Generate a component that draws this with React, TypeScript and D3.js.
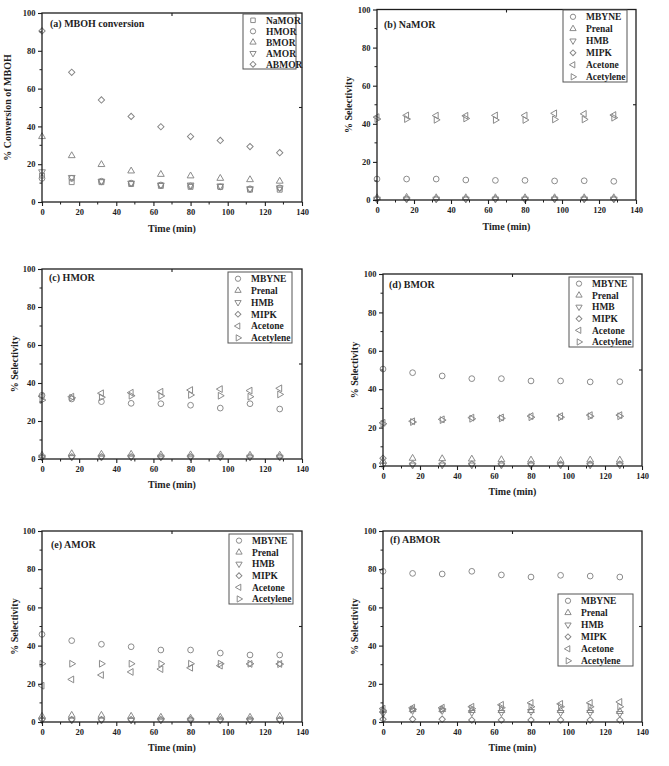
import React, { useRef, useEffect } from 'react';
import * as d3 from 'd3';

// shared axes
const times = [0, 16, 32, 48, 64, 80, 96, 112, 128];
const xTicks = [0, 20, 40, 60, 80, 100, 120, 140];
const yTicks = [0, 20, 40, 60, 80, 100];
const xMinor = [10, 30, 50, 70, 90, 110, 130];
const yMinor = [10, 30, 50, 70, 90];

// (a) MBOH conversion
const catalysts = ['NaMOR', 'HMOR', 'BMOR', 'AMOR', 'ABMOR'];
const convNaMOR = [14, 10.5, 10.5, 9.5, 8.5, 8, 8, 6.5, 6.5];
const convHMOR = [12.5, 12.5, 11, 10, 9, 8.5, 8, 7, 7.5];
const convBMOR = [34.6, 24.5, 19.8, 16.4, 14.6, 13.8, 12.5, 11.8, 11];
const convAMOR = [16, 13, 11, 10, 9, 9, 8.5, 7, 7.5];
const convABMOR = [90.5, 68.6, 54, 45.3, 39.8, 34.6, 32.6, 29.3, 26.1];

// products
const products = ['MBYNE', 'Prenal', 'HMB', 'MIPK', 'Acetone', 'Acetylene'];

// (b) NaMOR selectivity
const naMBYNE = [11, 11, 11, 10.5, 10.3, 10.3, 10, 10.1, 9.8];
const naPrenal = [1.2, 1.4, 1.2, 1.2, 1.2, 1.2, 1.2, 1.2, 1.2];
const naHMB = [0.5, 0.5, 0.5, 0.5, 0.5, 0.5, 0.5, 0.5, 0.5];
const naMIPK = [0.6, 0.6, 0.6, 0.6, 0.6, 0.6, 0.6, 0.6, 0.6];
const naAcetone = [43.5, 44.4, 44.3, 44.2, 44.4, 44.4, 45.5, 45.2, 44.6];
const naAcetylene = [42.5, 42.5, 42.1, 42.8, 42, 42, 42.3, 42.3, 43.2];

// (c) HMOR selectivity
const hMBYNE = [33.5, 31.6, 30.2, 29.3, 29.1, 28.3, 26.8, 29.1, 26.3];
const hPrenal = [2, 2.8, 2.5, 2.5, 2.2, 2.2, 2.2, 2, 2];
const hHMB = [1, 1, 1, 1, 1, 1, 1, 1, 1];
const hMIPK = [1, 1.2, 1.2, 1.2, 1.2, 1.2, 1.2, 1.2, 1.2];
const hAcetone = [33, 32.8, 34.6, 34.9, 35.4, 36.3, 36.8, 36, 37.2];
const hAcetylene = [31, 32.2, 32.5, 33.3, 33.2, 33.7, 33.3, 32.8, 34];

// (d) BMOR selectivity
const bMBYNE = [50.5, 48.6, 46.9, 45.5, 45.5, 44.3, 44.3, 43.8, 43.9];
const bPrenal = [2.5, 4, 3.8, 3.6, 3.3, 3.1, 2.9, 3.1, 3.1];
const bHMB = [0.5, 0.5, 0.5, 0.5, 0.5, 0.5, 0.5, 0.5, 0.5];
const bMIPK = [4, 1, 1, 1, 1, 1, 1, 1, 1];
const bAcetone = [22.5, 23.3, 24.3, 25.2, 25.3, 26, 26, 26.5, 26.5];
const bAcetylene = [22, 22.9, 23.9, 24.6, 24.8, 25.4, 25.4, 25.9, 25.9];

// (e) AMOR selectivity
const aMBYNE = [45.9, 42.6, 40.7, 39.4, 37.7, 37.7, 36.1, 35.1, 35.1];
const aPrenal = [3, 3.5, 3.5, 3, 2.5, 2, 2.5, 2.5, 3];
const aHMB = [1, 1, 1, 1, 1, 1, 1, 1, 1];
const aMIPK = [1.5, 1.2, 1.2, 1.2, 1.2, 1.2, 1.2, 1.2, 1.2];
const aAcetone = [19, 22.3, 24.6, 26.2, 27.7, 28.4, 29.5, 30.4, 30.4];
const aAcetylene = [30.5, 30.5, 30.5, 30.5, 30.5, 30.5, 30.5, 30.5, 30.3];

// (f) ABMOR selectivity
const abMBYNE = [78.9, 77.8, 77.5, 78.9, 77, 75.9, 76.8, 76.4, 75.9];
const abPrenal = [6, 6.5, 6.5, 6, 6, 6, 6, 6, 5.5];
const abHMB = [4.5, 6, 6, 5, 5, 5.5, 5, 5, 4.5];
const abMIPK = [1.5, 1.5, 1.5, 1, 1, 1, 1, 1, 1];
const abAcetone = [7, 7.5, 7.5, 8, 9, 10, 9.5, 10, 10.5];
const abAcetylene = [6, 6.5, 6.5, 7, 7.5, 8, 8, 8, 8];

const FONT = '"Liberation Serif", "Times New Roman", serif';
const MARK = '#858585';
const INK = '#1e1e1e';

// marker shapes: [d3 symbol, size, rotation]
const shapes = {
  square: [d3.symbolSquare, 24, 0],
  circle: [d3.symbolCircle, 26, 0],
  up: [d3.symbolTriangle, 20, 0],
  down: [d3.symbolTriangle, 20, 180],
  diamond: [d3.symbolSquare, 20, 45],
  left: [d3.symbolTriangle, 20, -90],
  right: [d3.symbolTriangle, 20, 90],
};
const convShapes = ['square', 'circle', 'up', 'down', 'diamond'];
const prodShapes = ['circle', 'up', 'down', 'diamond', 'left', 'right'];

const Panel = (props) => {
  const { box, label, labelPos, yTitle, yTitleX, xTitleDy, names, kinds, values, legend } = props;
  const ref = useRef();

  useEffect(() => {
    const g = d3.select(ref.current);
    g.selectAll('*').remove();

    const xScale = d3.scaleLinear().domain([0, 140]).range([box.left, box.right]);
    const yScale = d3.scaleLinear().domain([0, 100]).range([box.bottom, box.top]);

    // POINTS
    values.forEach((vals, si) => {
      const [type, size, rot] = shapes[kinds[si]];
      const path = d3.symbol().type(type).size(size)();
      g.selectAll(null)
        .data(vals)
        .enter()
        .append('path')
        .attr('d', path)
        .attr('transform', (d, i) => `translate(${xScale(times[i])},${yScale(d)}) rotate(${rot})`)
        .attr('fill', 'none')
        .attr('stroke', MARK)
        .attr('stroke-width', 0.95);
    });

    // FRAME
    g.append('rect')
      .attr('x', box.left)
      .attr('y', box.top)
      .attr('width', box.right - box.left)
      .attr('height', box.bottom - box.top)
      .attr('fill', 'none')
      .attr('stroke', INK)
      .attr('stroke-width', 1.3);

    // AXES
    const xAxis = g.append('g')
      .attr('transform', `translate(0,${box.bottom})`)
      .call(d3.axisBottom(xScale).tickValues(xTicks).tickSize(4).tickPadding(2.5));
    const yAxis = g.append('g')
      .attr('transform', `translate(${box.left},0)`)
      .call(d3.axisLeft(yScale).tickValues(yTicks).tickSize(4).tickPadding(2.5));
    [xAxis, yAxis].forEach((a) => {
      a.select('.domain').remove();
      a.selectAll('line').attr('stroke', INK).attr('stroke-width', 1.1);
      a.selectAll('text')
        .attr('fill', INK)
        .style('font-family', FONT)
        .style('font-weight', 'bold')
        .style('font-size', '8.5px');
    });

    // minor ticks
    g.selectAll(null).data(xMinor).enter().append('line')
      .attr('x1', (d) => xScale(d)).attr('x2', (d) => xScale(d))
      .attr('y1', box.bottom).attr('y2', box.bottom + 2.5)
      .attr('stroke', INK).attr('stroke-width', 1);
    g.selectAll(null).data(yMinor).enter().append('line')
      .attr('y1', (d) => yScale(d)).attr('y2', (d) => yScale(d))
      .attr('x1', box.left).attr('x2', box.left - 2.5)
      .attr('stroke', INK).attr('stroke-width', 1);

    // top / right middle ticks
    g.append('line')
      .attr('x1', xScale(70)).attr('x2', xScale(70))
      .attr('y1', box.top).attr('y2', box.top + 3)
      .attr('stroke', INK).attr('stroke-width', 1.1);
    g.append('line')
      .attr('x1', box.right).attr('x2', box.right - 3)
      .attr('y1', yScale(50)).attr('y2', yScale(50))
      .attr('stroke', INK).attr('stroke-width', 1.1);

    // TITLES
    g.append('text')
      .attr('x', (box.left + box.right) / 2)
      .attr('y', box.bottom + xTitleDy)
      .attr('text-anchor', 'middle')
      .attr('fill', INK)
      .style('font-family', FONT)
      .style('font-weight', 'bold')
      .style('font-size', '10px')
      .text('Time (min)');
    g.append('text')
      .attr('transform', `translate(${yTitleX},${(box.top + box.bottom) / 2}) rotate(-90)`)
      .attr('text-anchor', 'middle')
      .attr('dy', '0.35em')
      .attr('fill', INK)
      .style('font-family', FONT)
      .style('font-weight', 'bold')
      .style('font-size', '10px')
      .text(yTitle);
    g.append('text')
      .attr('x', box.left + labelPos[0])
      .attr('y', box.top + labelPos[1])
      .attr('dy', '0.35em')
      .attr('fill', INK)
      .style('font-family', FONT)
      .style('font-weight', 'bold')
      .style('font-size', '10px')
      .text(label);

    // LEGEND
    const lg = g.append('g');
    lg.append('rect')
      .attr('x', legend.x).attr('y', legend.y)
      .attr('width', legend.w).attr('height', legend.h)
      .attr('fill', 'white')
      .attr('stroke', '#555')
      .attr('stroke-width', 1);
    const row = legend.h / names.length;
    names.forEach((name, i) => {
      const cy = legend.y + row * (i + 0.5) + 0.8;
      const [type, size, rot] = shapes[kinds[i]];
      lg.append('path')
        .attr('d', d3.symbol().type(type).size(size * 0.85)())
        .attr('transform', `translate(${legend.x + 10},${cy}) rotate(${rot})`)
        .attr('fill', 'none')
        .attr('stroke', MARK)
        .attr('stroke-width', 0.95);
      lg.append('text')
        .attr('x', legend.x + 23)
        .attr('y', cy)
        .attr('dy', '0.35em')
        .attr('fill', INK)
        .style('font-family', FONT)
        .style('font-weight', 'bold')
        .style('font-size', '9.5px')
        .text(name);
    });
  }, [box, label, labelPos, yTitle, yTitleX, xTitleDy, names, kinds, values, legend]);

  return <g ref={ref} />;
};

const panels = [
  {
    box: { left: 42, right: 302, top: 13, bottom: 202 },
    label: '(a) MBOH conversion', labelPos: [8, 10.5],
    yTitle: '% Conversion of MBOH', yTitleX: 7, xTitleDy: 30,
    names: catalysts, kinds: convShapes,
    values: [convNaMOR, convHMOR, convBMOR, convAMOR, convABMOR],
    legend: { x: 243, y: 14, w: 53, h: 55 },
  },
  {
    box: { left: 377, right: 636, top: 9.5, bottom: 200 },
    label: '(b) NaMOR', labelPos: [7, 14.5],
    yTitle: '% Selectivity', yTitleX: 348, xTitleDy: 30,
    names: products, kinds: prodShapes,
    values: [naMBYNE, naPrenal, naHMB, naMIPK, naAcetone, naAcetylene],
    legend: { x: 563, y: 10, w: 64, h: 72 },
  },
  {
    box: { left: 42, right: 302, top: 269, bottom: 459 },
    label: '(c) HMOR', labelPos: [7, 8],
    yTitle: '% Selectivity', yTitleX: 14, xTitleDy: 29,
    names: products, kinds: prodShapes,
    values: [hMBYNE, hPrenal, hHMB, hMIPK, hAcetone, hAcetylene],
    legend: { x: 228, y: 272, w: 64, h: 71 },
  },
  {
    box: { left: 383, right: 642, top: 274, bottom: 466 },
    label: '(d) BMOR', labelPos: [6, 10],
    yTitle: '% Selectivity', yTitleX: 354, xTitleDy: 29,
    names: products, kinds: prodShapes,
    values: [bMBYNE, bPrenal, bHMB, bMIPK, bAcetone, bAcetylene],
    legend: { x: 569, y: 277, w: 64, h: 70 },
  },
  {
    box: { left: 42, right: 302, top: 531, bottom: 722 },
    label: '(e) AMOR', labelPos: [9, 13],
    yTitle: '% Selectivity', yTitleX: 14, xTitleDy: 29,
    names: products, kinds: prodShapes,
    values: [aMBYNE, aPrenal, aHMB, aMIPK, aAcetone, aAcetylene],
    legend: { x: 229, y: 534, w: 64, h: 70 },
  },
  {
    box: { left: 383, right: 642, top: 531, bottom: 722 },
    label: '(f) ABMOR', labelPos: [7, 8],
    yTitle: '% Selectivity', yTitleX: 354, xTitleDy: 29,
    names: products, kinds: prodShapes,
    values: [abMBYNE, abPrenal, abHMB, abMIPK, abAcetone, abAcetylene],
    legend: { x: 558, y: 594, w: 75, h: 72 },
  },
];

export default function App() {
  return (
    <div style={{ position: 'absolute', left: 0, top: 0 }}>
      <svg width={669} height={766} style={{ display: 'block', background: 'white' }}>
        {panels.map((p) => (
          <Panel key={p.label} {...p} />
        ))}
      </svg>
    </div>
  );
}
